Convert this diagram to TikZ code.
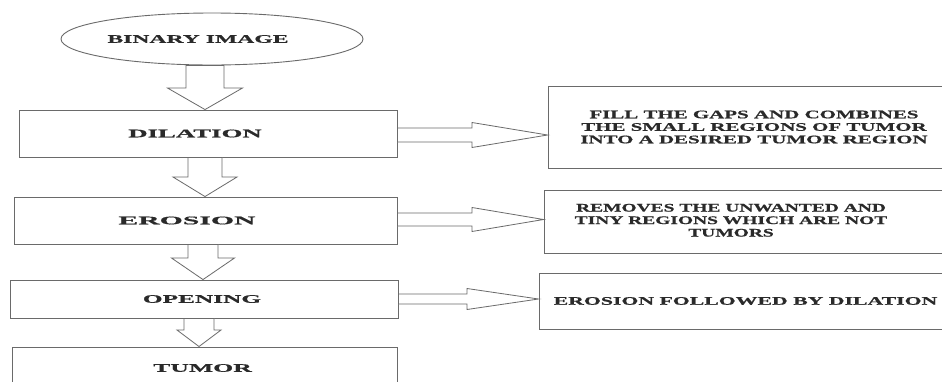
\documentclass[tikz,border=0pt]{standalone}
\usepackage{fontspec}
\usepackage{graphicx}
\usetikzlibrary{shapes.geometric}
\newfontfamily\wfont[FakeStretch=1.82,FakeBold=0.6]{Liberation Serif}
\definecolor{ln}{HTML}{6A6A6A}
\definecolor{tx}{HTML}{2A2A2A}
\newcommand\sx[2]{\scalebox{#1}[1]{#2}}
\newcommand\vblk[6]{%
  \draw[blk] (#3-#4,0 |- #1) -- (#3-#4,#6) -- (#3-#5,#6) -- (#3,0 |- #2)
    -- (#3+#5,#6) -- (#3+#4,#6) -- (#3+#4,0 |- #1) -- cycle;}
\newcommand\hblk[6]{%
  \draw[blk] (#1 |- 0,#3-#4) -- (#6,#3-#4) -- (#6,#3-#5) -- (#2 |- 0,#3)
    -- (#6,#3+#5) -- (#6,#3+#4) -- (#1 |- 0,#3+#4) -- cycle;}
\begin{document}
\begin{tikzpicture}[x=1pt,y=-1pt,
  box/.style={draw=ln, line width=0.9pt, rectangle, inner sep=0pt,
    font=\wfont\bfseries\fontsize{11.5}{12.5}\selectfont, text=tx},
  blk/.style={draw=ln, line width=0.8pt, fill=white, line join=miter}]
\clip (0,0) rectangle (942,381);
\fill[white] (0,0) rectangle (942,381);
% left column
\node[box, ellipse, minimum width=302pt, minimum height=52pt] (bin) at (212,39) {\kern-28pt\sx{1.13}{BINARY IMAGE}};
\node[box, minimum width=378pt, minimum height=47pt] (dil) at (208,133.5) {\kern-26pt\sx{1.28}{DILATION}};
\node[box, minimum width=383pt, minimum height=47pt] (ero) at (205.5,220.5) {\kern-37pt\sx{1.42}{EROSION}};
\node[box, minimum width=388pt, minimum height=38pt] (ope) at (204,299) {\kern-4pt\sx{1.21}{OPENING}};
\node[box, minimum width=385pt, minimum height=42pt] (tum) at (204.5,368) {\kern-4pt\sx{1.23}{TUMOR}};
% right column
\node[box, minimum width=412pt, minimum height=82pt, align=center] (fil) at (754,127)
  {FILL THE GAPS AND COMBINES\\THE SMALL REGIONS OF TUMOR\\INTO A DESIRED TUMOR REGION};
\node[box, minimum width=416pt, minimum height=63pt] (rem) at (752,221.5)
  {\kern-42pt\sx{0.93}{\begin{tabular}{@{}c@{}}REMOVES THE UNWANTED AND\\TINY REGIONS WHICH ARE NOT\\TUMORS\end{tabular}}};
\node[box, minimum width=421pt, minimum height=56pt] (ers) at (749.5,301) {\kern-8pt\sx{1.04}{EROSION FOLLOWED BY DILATION}};
% block arrows down
\vblk{bin.south}{dil.north}{205}{19}{37.5}{88}
\vblk{dil.south}{ero.north}{205}{17}{32}{177}
\vblk{ero.south}{ope.north}{203}{15}{31.5}{258}
\vblk{ope.south}{tum.north}{199}{15}{22}{330}
% block arrows right
\hblk{dil.east}{fil.west}{135}{7}{12.5}{472}
\hblk{ero.east}{rem.west}{219.5}{6.5}{12}{472}
\hblk{ope.east}{ers.west}{299}{5}{10.5}{467}
\end{tikzpicture}
\end{document}
